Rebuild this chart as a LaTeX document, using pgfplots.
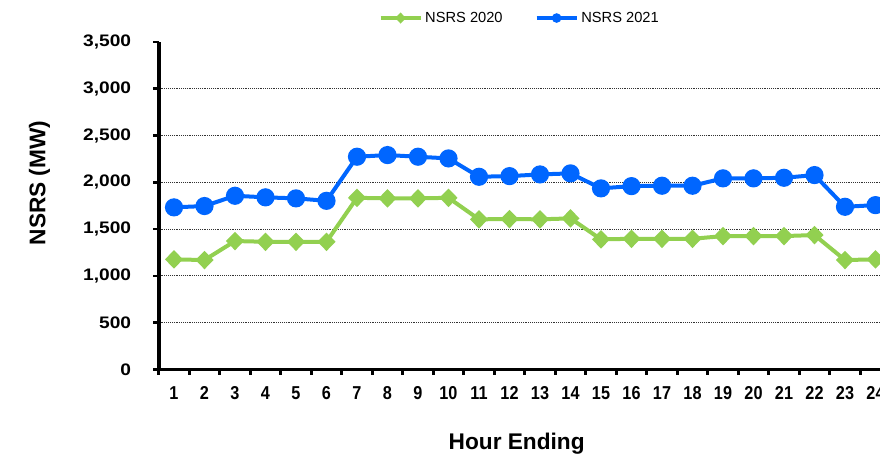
\documentclass[border=0pt]{standalone}
\usepackage{fontspec}
\setmainfont{Liberation Sans}
\usepackage{pgfplots}
\pgfplotsset{compat=1.18}
\definecolor{ngreen}{RGB}{146,208,80}
\definecolor{nblue}{RGB}{0,102,255}
\begin{document}
\begin{tikzpicture}[x=1pt,y=1pt]
\useasboundingbox (0,0) rectangle (660,342);
\clip (0,0) rectangle (660,342);
\begin{axis}[
  at={(119.06pt,64.875pt)}, anchor=south west,
  scale only axis, width=549pt, height=245.6pt,
  xmin=0.5, xmax=24.5, ymin=0, ymax=3500,
  axis lines*=left,
  axis line style={line width=2.8pt, black},
  xtick={1,...,24},
  major x tick style={draw=none},
  minor xtick={0.5,1.5,...,24.5},
  ytick={0,500,...,3000},
  extra y ticks={3500}, extra y tick style={grid=none},
  ymajorgrids, grid style={densely dotted, black!80, line width=0.8pt},
  tick align=outside, major tick length=4pt, minor tick length=4pt,
  tick style={line width=2pt, black},
  /pgf/number format/.cd, 1000 sep={,}, assume math mode=true, /pgfplots/.cd,
  xticklabel style={font=\bfseries\fontsize{14}{14}\selectfont, xscale=0.87, yshift=-5.5pt},
  yticklabel style={font=\bfseries\fontsize{12.5}{12.5}\selectfont, xscale=1.15, xshift=-11pt},
  xlabel={Hour Ending},
  xlabel style={font=\bfseries\fontsize{17}{17}\selectfont, at={(axis description cs:0.489,-0.227)}, anchor=center},
  ylabel={NSRS (MW)},
  ylabel style={font=\bfseries\fontsize{17}{17}\selectfont, at={(axis description cs:-0.163,0.5695)}, anchor=center},
  legend style={at={(axis description cs:0.4935,1.0733)}, anchor=center, legend columns=2, draw=none, fill=none,
    font=\fontsize{11}{11}\selectfont, /tikz/every even column/.append style={column sep=22pt}},
  legend image code/.code={\draw[#1, mark repeat=2, mark phase=2, mark size=2pt] plot coordinates {(0pt,0pt) (15pt,0pt) (30pt,0pt)};},
]
\addplot[color=ngreen, line width=3pt, mark=diamond*, mark size=4.8pt, mark options={xscale=1.3}] coordinates {
(1,1177) (2,1170) (3,1373) (4,1365) (5,1365) (6,1365) (7,1835) (8,1829) (9,1829) (10,1835) (11,1605) (12,1608)
(13,1605) (14,1615) (15,1391) (16,1397) (17,1397) (18,1397) (19,1426) (20,1426) (21,1426) (22,1437) (23,1170) (24,1177)};
\addlegendentry{NSRS 2020}
\addplot[color=nblue, line width=3pt, mark=*, mark size=5.3pt] coordinates {
(1,1733) (2,1747) (3,1857) (4,1840) (5,1829) (6,1803) (7,2274) (8,2292) (9,2274) (10,2256) (11,2060) (12,2067)
(13,2085) (14,2096) (15,1936) (16,1960) (17,1964) (18,1964) (19,2043) (20,2043) (21,2049) (22,2078) (23,1739) (24,1757)};
\addlegendentry{NSRS 2021}
\end{axis}
\end{tikzpicture}
\end{document}
